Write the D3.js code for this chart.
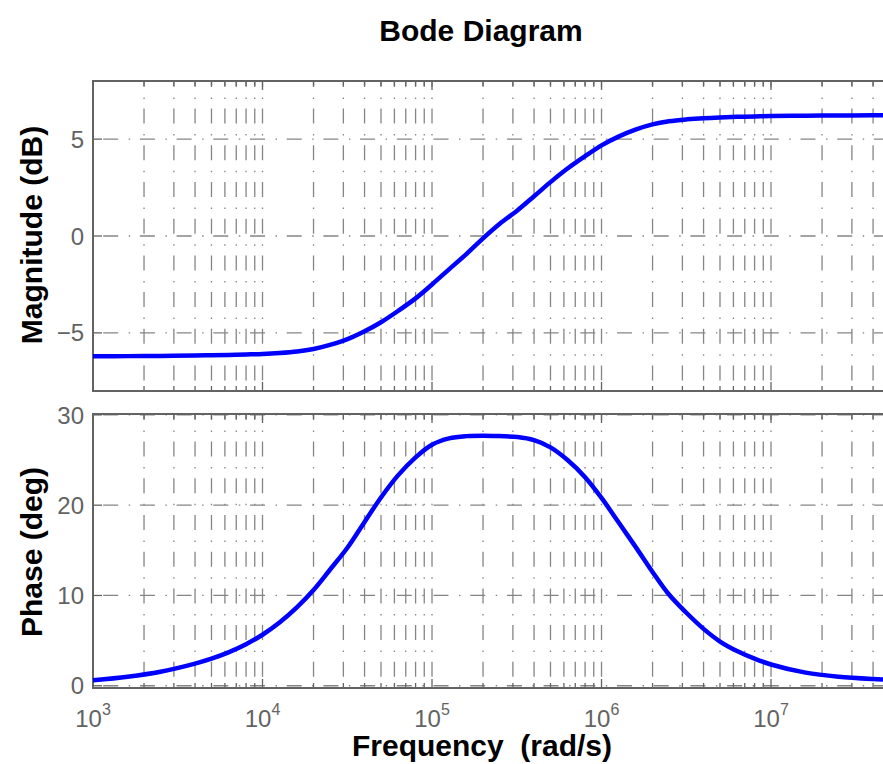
<!DOCTYPE html>
<html>
<head>
<meta charset="utf-8">
<script src="https://cdn.jsdelivr.net/npm/d3@7"></script>
<style>
    html, body { margin: 0; padding: 0; background: #ffffff; }
    svg { display: block; font-family: "Liberation Sans", Arial, Helvetica, sans-serif; }
</style>
</head>
<body>
<div id="bode"></div>
<script>
    // values (rad/s, dB, deg)
    var frequency = [
        1e3, 1.6e3, 2.5e3, 4e3, 5e3, 6.3e3, 8e3,
        1e4, 1.26e4, 1.6e4, 2e4, 2.5e4, 3.2e4, 4e4, 5e4, 6.3e4, 8e4,
        1e5, 1.26e5, 1.6e5, 2e5, 2.5e5, 3.2e5, 4e5, 5e5, 6.3e5, 8e5,
        1e6, 1.26e6, 1.6e6, 2e6, 2.5e6, 3.2e6, 4e6, 5e6, 6.3e6, 8e6,
        1e7, 1.6e7, 2.5e7, 4e7, 5e7
    ];
    var magnitudeDb = [
        -6.21, -6.20, -6.19, -6.17, -6.155, -6.14, -6.115,
        -6.09, -6.04, -5.96, -5.83, -5.62, -5.31, -4.92, -4.45, -3.87, -3.22,
        -2.50, -1.72, -0.92, -0.12, 0.62, 1.33, 2.05, 2.78, 3.48, 4.12,
        4.68, 5.13, 5.50, 5.76, 5.92, 6.02, 6.08, 6.12, 6.15, 6.17,
        6.19, 6.21, 6.22, 6.23, 6.23
    ];
    var phaseDeg = [
        0.60, 1.00, 1.55, 2.45, 3.0, 3.7, 4.6,
        5.65, 7.0, 8.7, 10.6, 12.85, 15.4, 18.15, 20.85, 23.3, 25.3,
        26.7, 27.4, 27.65, 27.7, 27.65, 27.55, 27.2, 26.4, 25.0, 23.1,
        20.8, 18.1, 15.3, 12.6, 10.1, 8.0, 6.3, 4.9, 3.85, 3.0,
        2.35, 1.45, 1.0, 0.75, 0.68
    ];
    var decadeExponents = [3, 4, 5, 6, 7];
    var magnitudeTicks = [-5, 0, 5];
    var phaseTicks = [0, 10, 20, 30];

    var width = 883, height = 764;
    var xLeft = 93, xRight = 889.5;
    var magTop = 81, magBottom = 391;
    var phaseTop = 414, phaseBottom = 688;
    var gridColor = "#858585", boxColor = "#636363", labelColor = "#636363";

    var x = d3.scaleLog().domain([1e3, 5e7]).range([xLeft, xRight]);
    var yMag = d3.scaleLinear().domain([-8, 8]).range([magBottom, magTop]);
    var yPhase = d3.scaleLinear().domain([-0.25, 30.1]).range([phaseBottom, phaseTop]);

    // major + minor decade positions for the grid
    var gridFrequencies = [];
    decadeExponents.forEach(function(e) {
        d3.range(1, 10).forEach(function(m) {
            var f = m * Math.pow(10, e);
            if (f <= 5e7) { gridFrequencies.push({ f: f, major: m === 1 }); }
        });
    });

    var svg = d3.select("#bode")
        .append("svg")
        .attr("width", width)
        .attr("height", height);

    function drawPanel(yScale, yTicks, top, bottom, values, label, labelY) {
        var panel = svg.append("g");

        // vertical grid
        panel.append("g")
            .selectAll("line")
            .data(gridFrequencies)
            .enter()
            .append("line")
            .attr("x1", function(d) { return x(d.f); })
            .attr("x2", function(d) { return x(d.f); })
            .attr("y1", top)
            .attr("y2", bottom)
            .attr("stroke", gridColor)
            .attr("stroke-width", 1.3)
            .attr("stroke-dasharray", "15,10.5,1.5,9.7")
            .attr("stroke-dashoffset", 9.1);

        // horizontal grid
        panel.append("g")
            .selectAll("line")
            .data(yTicks)
            .enter()
            .append("line")
            .attr("x1", xLeft)
            .attr("x2", xRight)
            .attr("y1", function(d) { return yScale(d); })
            .attr("y2", function(d) { return yScale(d); })
            .attr("stroke", gridColor)
            .attr("stroke-width", 1.3)
            .attr("stroke-dasharray", "15,10.5,1.5,9.7")
            .attr("stroke-dashoffset", 26.5);

        // x ticks, top and bottom, pointing inwards
        var ticks = panel.append("g");
        gridFrequencies.forEach(function(d) {
            var len = d.major ? 9 : 5;
            ticks.append("line")
                .attr("x1", x(d.f)).attr("x2", x(d.f))
                .attr("y1", bottom).attr("y2", bottom - len)
                .attr("stroke", boxColor).attr("stroke-width", 1.3);
            ticks.append("line")
                .attr("x1", x(d.f)).attr("x2", x(d.f))
                .attr("y1", top).attr("y2", top + len)
                .attr("stroke", boxColor).attr("stroke-width", 1.3);
        });
        yTicks.forEach(function(t) {
            ticks.append("line")
                .attr("x1", xLeft).attr("x2", xLeft + 9)
                .attr("y1", yScale(t)).attr("y2", yScale(t))
                .attr("stroke", boxColor).attr("stroke-width", 1.3);
        });

        // box
        panel.append("path")
            .attr("d", "M" + xRight + "," + top + "H" + xLeft + "V" + bottom + "H" + xRight)
            .attr("fill", "none")
            .attr("stroke", boxColor)
            .attr("stroke-width", 2);

        // y tick labels
        panel.append("g")
            .selectAll("text")
            .data(yTicks)
            .enter()
            .append("text")
            .attr("x", 84)
            .attr("y", function(d) { return yScale(d) + 8.6; })
            .attr("text-anchor", "end")
            .attr("font-size", 24)
            .attr("fill", labelColor)
            .text(function(d) { return d < 0 ? "\u2212" + Math.abs(d) : d; });

        // the curve
        var line = d3.line()
            .x(function(d, i) { return x(frequency[i]); })
            .y(function(d) { return yScale(d); })
            .curve(d3.curveCatmullRom.alpha(0.5));
        panel.append("path")
            .datum(values)
            .attr("d", line)
            .attr("fill", "none")
            .attr("stroke", "#0000ff")
            .attr("stroke-width", 4.5)
            .attr("stroke-linejoin", "round");

        // y label
        svg.append("text")
            .attr("transform", "translate(42," + labelY + ") rotate(-90)")
            .attr("text-anchor", "middle")
            .attr("font-size", 30)
            .attr("font-weight", "bold")
            .attr("fill", "#000")
            .text(label);
    }

    drawPanel(yMag, magnitudeTicks, magTop, magBottom, magnitudeDb, "Magnitude (dB)", 235);
    drawPanel(yPhase, phaseTicks, phaseTop, phaseBottom, phaseDeg, "Phase (deg)", 552);

    // x tick labels 10^n
    var xLabels = svg.append("g")
        .selectAll("text")
        .data(decadeExponents)
        .enter()
        .append("text")
        .attr("x", function(d) { return x(Math.pow(10, d)); })
        .attr("y", 726.5)
        .attr("text-anchor", "middle")
        .attr("font-size", 24)
        .attr("fill", labelColor);
    xLabels.append("tspan").text("10");
    xLabels.append("tspan")
        .attr("dy", -12)
        .attr("font-size", 16)
        .text(function(d) { return d; });

    // title + x label
    svg.append("text")
        .attr("x", 481)
        .attr("y", 41)
        .attr("text-anchor", "middle")
        .attr("font-size", 30)
        .attr("font-weight", "bold")
        .text("Bode Diagram");

    svg.append("text")
        .attr("x", 482)
        .attr("y", 756)
        .attr("text-anchor", "middle")
        .attr("font-size", 30)
        .attr("font-weight", "bold")
        .attr("xml:space", "preserve")
        .style("white-space", "pre")
        .text("Frequency  (rad/s)");
</script>
</body>
</html>
